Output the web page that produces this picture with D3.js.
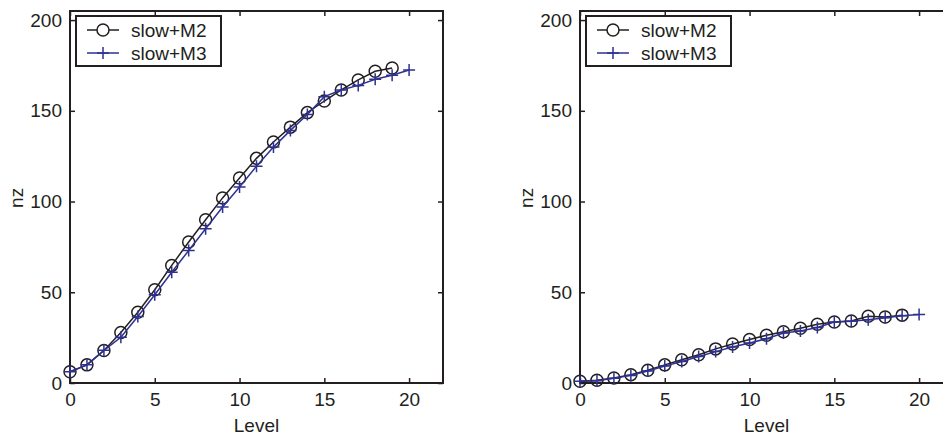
<!DOCTYPE html>
<html>
<head>
<meta charset="utf-8">
<script src="https://cdn.jsdelivr.net/npm/d3@7"></script>
<style>
  html, body { margin: 0; padding: 0; background: #fff; }
  svg { display: block; }
  text { font-family: "Liberation Sans", Arial, Helvetica, sans-serif; fill: #231f20; }
</style>
</head>
<body>
<script>
// Level index for each series
const levelsM2 = d3.range(0, 20);   // 0..19
const levelsM3 = d3.range(0, 21);   // 0..20

// Panel 1: nz per level
const leftM2 = [6.2, 10, 17.9, 27.8, 39, 51.4, 64.8, 77.7, 90, 102, 113, 123.8, 132.8, 141, 149, 155.4, 161.5, 167, 171.8, 173.6];
const leftM3 = [6.2, 10, 18, 25.2, 36.6, 48.6, 61, 73, 85, 97, 108, 119.5, 130, 139.2, 148, 157.8, 161.5, 164, 167.4, 169.6, 172.5];

// Panel 2: nz per level
const rightM2 = [1, 1.5, 2.8, 4.6, 7, 10, 12.8, 15.6, 18.8, 21.5, 24, 26.3, 28.2, 30.2, 32.4, 33.6, 34.2, 36.8, 36.4, 37.4];
const rightM3 = [1, 1.3, 2.6, 4.2, 6.6, 9.3, 11.9, 14.6, 17.3, 19.8, 22, 24.4, 27.6, 28.6, 30.6, 33.6, 34, 34.8, 36, 37, 37.8];

const xTicks = [0, 5, 10, 15, 20];
const yTicks = [0, 50, 100, 150, 200];
const seriesNames = ["slow+M2", "slow+M3"];

const W = 943, H = 436;
const ink = "#231f20";
const blue = "#2e3192";
const fs = 19;

const svg = d3.select("body").append("svg").attr("width", W).attr("height", H);

function panel(x0, m2, m3) {
  const x = d3.scaleLinear().domain([0, 22]).range([x0, x0 + 373]);
  const y = d3.scaleLinear().domain([0, 205]).range([383, 11]);
  const g = svg.append("g");

  // Inward ticks on all four sides
  const tl = 5;
  g.append("g").attr("transform", `translate(0,${y(0)})`)
    .call(d3.axisBottom(x).tickValues(xTicks).tickSize(-tl).tickPadding(10).tickFormat(d3.format("d")))
    .call(s => s.select(".domain").remove());
  g.append("g").attr("transform", `translate(0,${y(205)})`)
    .call(d3.axisTop(x).tickValues(xTicks).tickSize(-tl).tickFormat(""))
    .call(s => s.select(".domain").remove());
  g.append("g").attr("transform", `translate(${x(0)},0)`)
    .call(d3.axisLeft(y).tickValues(yTicks).tickSize(-tl).tickPadding(8).tickFormat(d3.format("d")))
    .call(s => s.select(".domain").remove());
  g.append("g").attr("transform", `translate(${x(22)},0)`)
    .call(d3.axisRight(y).tickValues(yTicks).tickSize(-tl).tickFormat(""))
    .call(s => s.select(".domain").remove());
  g.selectAll(".tick line").attr("stroke", ink).attr("stroke-width", 1.5);
  g.selectAll(".tick text").attr("font-size", fs).style("fill", ink);

  // Box
  g.append("rect")
    .attr("x", x(0)).attr("y", y(205))
    .attr("width", x(22) - x(0)).attr("height", y(0) - y(205))
    .attr("fill", "none").attr("stroke", ink).attr("stroke-width", 2);

  // Axis labels
  g.append("text").attr("x", (x(0) + x(22)) / 2).attr("y", 432)
    .attr("text-anchor", "middle").attr("font-size", fs).text("Level");
  g.append("text")
    .attr("transform", `translate(${x0 - 47},${y(102)}) rotate(-90)`)
    .attr("text-anchor", "middle").attr("font-size", fs).text("nz");

  const line = d3.line().x((d, i) => x(i)).y(d => y(d));

  // slow+M2: black line with open circles
  g.append("path").datum(m2).attr("d", line)
    .attr("fill", "none").attr("stroke", ink).attr("stroke-width", 1.5);
  g.selectAll("circle.m2").data(m2).join("circle").attr("class", "m2")
    .attr("cx", (d, i) => x(levelsM2[i])).attr("cy", d => y(d)).attr("r", 6)
    .attr("fill", "none").attr("stroke", ink).attr("stroke-width", 1.5);

  // slow+M3: blue line with plus markers
  g.append("path").datum(m3).attr("d", line)
    .attr("fill", "none").attr("stroke", blue).attr("stroke-width", 1.5);
  g.selectAll("path.m3").data(m3).join("path").attr("class", "m3")
    .attr("transform", (d, i) => `translate(${x(levelsM3[i])},${y(d)})`)
    .attr("d", "M-6,0H6M0,-6V6")
    .attr("fill", "none").attr("stroke", blue).attr("stroke-width", 1.5);

  // Legend
  const lg = g.append("g").attr("transform", `translate(${x0 + 6},16)`);
  lg.append("rect").attr("x", 0).attr("y", 0).attr("width", 145).attr("height", 50)
    .attr("fill", "#fff").attr("stroke", ink).attr("stroke-width", 2);
  const rows = [{ name: seriesNames[0], color: ink, mark: "circle", cy: 14 },
                { name: seriesNames[1], color: blue, mark: "plus", cy: 37 }];
  rows.forEach(r => {
    lg.append("line").attr("x1", 11).attr("x2", 43).attr("y1", r.cy).attr("y2", r.cy)
      .attr("stroke", r.color).attr("stroke-width", 1.5);
    if (r.mark === "circle") {
      lg.append("circle").attr("cx", 27).attr("cy", r.cy).attr("r", 6)
        .attr("fill", "#fff").attr("stroke", r.color).attr("stroke-width", 1.5);
    } else {
      lg.append("path").attr("transform", `translate(27,${r.cy})`).attr("d", "M-6,0H6M0,-6V6")
        .attr("fill", "none").attr("stroke", r.color).attr("stroke-width", 1.5);
    }
    lg.append("text").attr("x", 55).attr("y", r.cy).attr("dy", "0.36em")
      .attr("font-size", fs).text(r.name);
  });
}

panel(70, leftM2, leftM3);
panel(580, rightM2, rightM3);
</script>
</body>
</html>
